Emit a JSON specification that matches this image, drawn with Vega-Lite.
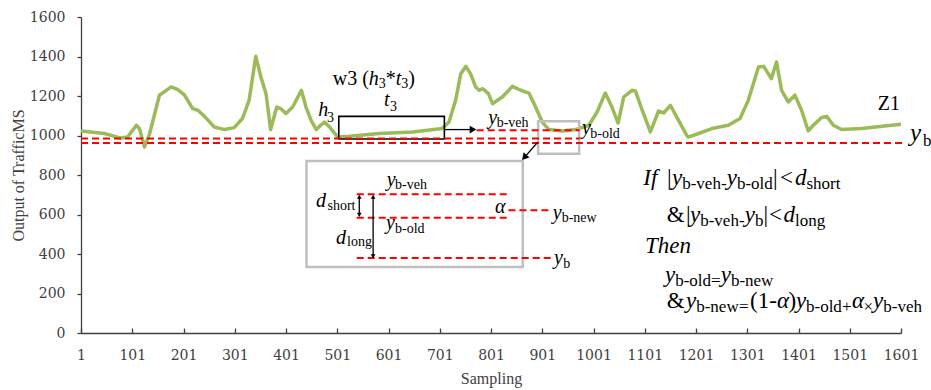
{
  "$schema": "https://vega.github.io/schema/vega-lite/v6.json",
  "width": 820,
  "height": 316,
  "autosize": {"type": "none"},
  "padding": {"left": 81, "top": 17, "right": 30, "bottom": 57},
  "background": "white",
  "config": {"view": {"stroke": null}, "text": {"font": "Liberation Serif"}},
  "datasets": {
    "curve": [
      {"x":1,"y":1023},{"x":47,"y":1010},{"x":79,"y":987},{"x":92,"y":992},{"x":109,"y":1052},{"x":115,"y":1035},{"x":125,"y":942},{"x":135,"y":1010},{"x":154,"y":1204},{"x":177,"y":1246},{"x":190,"y":1232},{"x":203,"y":1204},{"x":219,"y":1136},{"x":229,"y":1128},{"x":242,"y":1097},{"x":261,"y":1043},{"x":281,"y":1030},{"x":300,"y":1040},{"x":316,"y":1086},{"x":329,"y":1178},{"x":342,"y":1401},{"x":352,"y":1296},{"x":362,"y":1212},{"x":371,"y":1030},{"x":383,"y":1144},{"x":391,"y":1136},{"x":401,"y":1111},{"x":414,"y":1144},{"x":431,"y":1229},{"x":440,"y":1144},{"x":450,"y":1077},{"x":460,"y":1030},{"x":466,"y":1046},{"x":476,"y":1068},{"x":486,"y":1043},{"x":502,"y":992},{"x":525,"y":996},{"x":583,"y":1010},{"x":648,"y":1018},{"x":706,"y":1035},{"x":719,"y":1068},{"x":732,"y":1178},{"x":742,"y":1313},{"x":752,"y":1350},{"x":761,"y":1313},{"x":771,"y":1246},{"x":778,"y":1229},{"x":785,"y":1237},{"x":796,"y":1212},{"x":804,"y":1161},{"x":823,"y":1195},{"x":843,"y":1249},{"x":859,"y":1229},{"x":875,"y":1215},{"x":888,"y":1144},{"x":901,"y":1068},{"x":914,"y":1030},{"x":940,"y":1023},{"x":966,"y":1030},{"x":992,"y":1052},{"x":1008,"y":1119},{"x":1024,"y":1215},{"x":1037,"y":1144},{"x":1049,"y":1063},{"x":1060,"y":1195},{"x":1076,"y":1229},{"x":1083,"y":1225},{"x":1096,"y":1128},{"x":1112,"y":1018},{"x":1128,"y":1124},{"x":1138,"y":1114},{"x":1151,"y":1153},{"x":1167,"y":1077},{"x":1183,"y":1001},{"x":1186,"y":992},{"x":1206,"y":1010},{"x":1232,"y":1035},{"x":1264,"y":1052},{"x":1287,"y":1086},{"x":1303,"y":1178},{"x":1323,"y":1347},{"x":1333,"y":1350},{"x":1348,"y":1288},{"x":1358,"y":1372},{"x":1368,"y":1229},{"x":1381,"y":1170},{"x":1394,"y":1204},{"x":1407,"y":1128},{"x":1420,"y":1023},{"x":1430,"y":1052},{"x":1446,"y":1091},{"x":1456,"y":1097},{"x":1469,"y":1052},{"x":1485,"y":1030},{"x":1524,"y":1035},{"x":1601,"y":1057}
    ],
    "dash": [
      {"x":1,"x2":974,"y":985},
      {"x":1,"x2":1608,"y":962},
      {"x":773,"x2":974,"y":1026},
      {"x":539,"x2":838,"y":702},
      {"x":539,"x2":838,"y":584},
      {"x":835,"x2":916,"y":621},
      {"x":539,"x2":919,"y":380}
    ],
    "window": [{"x":504,"x2":710,"y":982,"y2":1097}],
    "zoomboxes": [
      {"x":893,"x2":973,"y":908,"y2":1072},
      {"x":441,"x2":863,"y":334,"y2":871}
    ],
    "arrows": [
      {"x":710,"y":1030,"x2":762,"y2":1030},
      {"x":892,"y":966,"x2":868,"y2":894},
      {"x":544,"y":692,"x2":544,"y2":596},
      {"x":571,"y":692,"x2":571,"y2":387}
    ],
    "heads": [
      {"x":766,"y":1030,"dir":"right"},
      {"x":866,"y":889,"dir":"diag"},
      {"x":544,"y":690,"dir":"up"},
      {"x":544,"y":598,"dir":"down"},
      {"x":571,"y":690,"dir":"up"},
      {"x":571,"y":389,"dir":"down"}
    ],
    "texts": [
      {"x":795.7,"y":1056.7,"t":"y","kind":"lab"},
      {"x":978.6,"y":1006.1,"t":"y","kind":"lab"},
      {"x":464.0,"y":1097.2,"t":"h","kind":"lab"},
      {"x":592.2,"y":1147.9,"t":"t","kind":"lab"},
      {"x":562.4,"y":1254.2,"t":"h","kind":"lab"},
      {"x":615.0,"y":1254.2,"t":"t","kind":"lab"},
      {"x":597.5,"y":742.8,"t":"y","kind":"lab"},
      {"x":459.5,"y":638.0,"t":"d","kind":"lab"},
      {"x":596.1,"y":525.1,"t":"y","kind":"lab"},
      {"x":498.6,"y":452.7,"t":"d","kind":"lab"},
      {"x":808.8,"y":606.1,"t":"α","kind":"lab"},
      {"x":921.4,"y":575.7,"t":"y","kind":"lab"},
      {"x":923.9,"y":347.8,"t":"y","kind":"lab"},
      {"x":812.1,"y":1044.0,"t":"b-veh","kind":"sub"},
      {"x":994.7,"y":989.4,"t":"b-old","kind":"sub"},
      {"x":481.0,"y":1068.4,"t":"3","kind":"sub"},
      {"x":603.9,"y":1124.1,"t":"3","kind":"sub"},
      {"x":581.9,"y":1239,"t":"3","kind":"sub"},
      {"x":626.0,"y":1239,"t":"3","kind":"sub"},
      {"x":613.7,"y":731.1,"t":"b-veh","kind":"sub"},
      {"x":482.0,"y":623.8,"t":"short","kind":"sub"},
      {"x":613.7,"y":506.3,"t":"b-old","kind":"sub"},
      {"x":520.0,"y":439.0,"t":"long","kind":"sub"},
      {"x":938.9,"y":560.5,"t":"b-new","kind":"sub"},
      {"x":942.1,"y":327.6,"t":"b","kind":"sub"},
      {"x":492.1,"y":1254.2,"t":"w3 (","kind":"rm"},
      {"x":595.5,"y":1254.2,"t":"*","kind":"rm"},
      {"x":639.6,"y":1254.2,"t":")","kind":"rm"},
      {"x":1555.5,"y":1127.6,"t":"Z1","kind":"rm"},
      {"x":1618.5,"y":970.6,"t":"y","kind":"big"},
      {"x":1644.0,"y":945.3,"t":"b","kind":"bigsub"},
      {"x":1098.2,"y":747.8,"t":"If","kind":"cond"},
      {"x":1154.2,"y":747.8,"t":"y","kind":"cond"},
      {"x":1260.9,"y":747.8,"t":"y","kind":"cond"},
      {"x":1394.2,"y":747.8,"t":"d","kind":"cond"},
      {"x":1189.3,"y":560.5,"t":"y","kind":"cond"},
      {"x":1296.0,"y":560.5,"t":"y","kind":"cond"},
      {"x":1371.7,"y":560.5,"t":"d","kind":"cond"},
      {"x":1101.5,"y":407.1,"t":"Then","kind":"cond"},
      {"x":1140.5,"y":256.7,"t":"y","kind":"cond"},
      {"x":1249.2,"y":256.7,"t":"y","kind":"cond"},
      {"x":1181.5,"y":125.1,"t":"y","kind":"cond"},
      {"x":1359.0,"y":125.1,"t":"α","kind":"cond"},
      {"x":1396.1,"y":125.1,"t":"y","kind":"cond"},
      {"x":1505.4,"y":125.1,"t":"α","kind":"cond"},
      {"x":1546.4,"y":125.1,"t":"y","kind":"cond"},
      {"x":1144.4,"y":747.8,"t":"|","kind":"condrm"},
      {"x":1351.2,"y":747.8,"t":"|","kind":"condrm"},
      {"x":1364.9,"y":747.8,"t":"<","kind":"condrm"},
      {"x":1143.8,"y":560.5,"t":"&","kind":"condrm"},
      {"x":1181.5,"y":560.5,"t":"|","kind":"condrm"},
      {"x":1332.5,"y":560.5,"t":"|","kind":"condrm"},
      {"x":1343.4,"y":560.5,"t":"<","kind":"condrm"},
      {"x":1143.8,"y":125.1,"t":"&","kind":"condrm"},
      {"x":1306.4,"y":125.1,"t":"(1-","kind":"condrm"},
      {"x":1381.5,"y":125.1,"t":")","kind":"condrm"},
      {"x":1174.1,"y":727.6,"t":"b-veh","kind":"condsub"},
      {"x":1249.8,"y":727.6,"t":"-","kind":"condsub"},
      {"x":1280.8,"y":727.6,"t":"b-old","kind":"condsub"},
      {"x":1416.6,"y":727.6,"t":"short","kind":"condsub"},
      {"x":1209.2,"y":540.3,"t":"b-veh","kind":"condsub"},
      {"x":1284.9,"y":540.3,"t":"-","kind":"condsub"},
      {"x":1315.9,"y":540.3,"t":"b","kind":"condsub"},
      {"x":1394.2,"y":540.3,"t":"long","kind":"condsub"},
      {"x":1160.4,"y":236.5,"t":"b-old","kind":"condsub"},
      {"x":1230.5,"y":236.5,"t":"=","kind":"condsub"},
      {"x":1269.1,"y":236.5,"t":"b-new","kind":"condsub"},
      {"x":1201.4,"y":104.9,"t":"b-new","kind":"condsub"},
      {"x":1284.9,"y":104.9,"t":"=","kind":"condsub"},
      {"x":1415.6,"y":104.9,"t":"b-old","kind":"condsub"},
      {"x":1485.9,"y":104.9,"t":"+","kind":"condsub"},
      {"x":1527.8,"y":104.9,"t":"×","kind":"condsub"},
      {"x":1566.3,"y":104.9,"t":"b-veh","kind":"condsub"}
    ]
  },
  "encoding": {
    "x": {
      "field": "x", "type": "quantitative",
      "scale": {"domain": [1, 1601], "nice": false, "zero": false},
      "axis": {
        "title": "Sampling",
        "values": [1,101,201,301,401,501,601,701,801,901,1001,1101,1201,1301,1401,1501,1601],
        "format": "d", "grid": false, "labelFlush": false, "labelOverlap": false,
        "labelFont": "DejaVu Serif", "labelFontSize": 14, "labelColor": "#404040",
        "domainColor": "#404040", "domainWidth": 1.3, "tickColor": "#404040", "tickWidth": 1.3,
        "tickSize": -5, "labelPadding": 20,
        "titleFont": "Liberation Serif", "titleFontSize": 16, "titleFontWeight": "normal", "titleColor": "#404040", "titlePadding": 8
      }
    },
    "y": {
      "field": "y", "type": "quantitative",
      "scale": {"domain": [0, 1600], "nice": false, "zero": false},
      "axis": {
        "title": "Output of TrafficMS",
        "values": [0,200,400,600,800,1000,1200,1400,1600],
        "format": "d", "grid": false, "labelOverlap": false, "labelFlush": false,
        "labelFont": "DejaVu Serif", "labelFontSize": 14, "labelColor": "#404040",
        "domainColor": "#404040", "domainWidth": 1.3, "tickColor": "#404040", "tickWidth": 1.3,
        "tickSize": 4, "labelPadding": 12,
        "titleFont": "Liberation Serif", "titleFontSize": 16, "titleFontWeight": "normal", "titleColor": "#404040", "titlePadding": 3
      }
    }
  },
  "layer": [
    {"data": {"name": "curve"}, "mark": {"type": "line", "color": "#9BBB59", "strokeWidth": 3.5, "strokeJoin": "round"}},
    {"data": {"name": "window"}, "mark": {"type": "rect", "fill": "transparent", "stroke": "black", "strokeWidth": 1.6},
     "encoding": {"x2": {"field": "x2"}, "y2": {"field": "y2"}}},
    {"data": {"name": "zoomboxes"}, "mark": {"type": "rect", "fill": "transparent", "stroke": "#BFBFBF", "strokeWidth": 2.5},
     "encoding": {"x2": {"field": "x2"}, "y2": {"field": "y2"}}},
    {"data": {"name": "dash"}, "mark": {"type": "rule", "color": "#FF0000", "strokeWidth": 2, "strokeDash": [7, 4]},
     "encoding": {"x2": {"field": "x2"}}},
    {"data": {"name": "arrows"}, "mark": {"type": "rule", "color": "black", "strokeWidth": 1.3},
     "encoding": {"x2": {"field": "x2"}, "y2": {"field": "y2"}}},
    {"data": {"name": "heads"}, "transform": [{"filter": "datum.dir === 'right'"}],
     "mark": {"type": "point", "shape": "triangle-right", "filled": true, "color": "black", "size": 60, "opacity": 1}},
    {"data": {"name": "heads"}, "transform": [{"filter": "datum.dir === 'diag'"}],
     "mark": {"type": "point", "shape": "triangle-down", "angle": 42, "filled": true, "color": "black", "size": 60, "opacity": 1}},
    {"data": {"name": "heads"}, "transform": [{"filter": "datum.dir === 'up'"}],
     "mark": {"type": "point", "shape": "triangle-up", "filled": true, "color": "black", "size": 22, "opacity": 1}},
    {"data": {"name": "heads"}, "transform": [{"filter": "datum.dir === 'down'"}],
     "mark": {"type": "point", "shape": "triangle-down", "filled": true, "color": "black", "size": 22, "opacity": 1}},
    {"data": {"name": "texts"}, "transform": [{"filter": "datum.kind === 'lab'"}],
     "mark": {"type": "text", "align": "left", "baseline": "alphabetic", "font": "Liberation Serif", "fontStyle": "italic", "fontSize": 20, "color": "black"},
     "encoding": {"text": {"field": "t"}}},
    {"data": {"name": "texts"}, "transform": [{"filter": "datum.kind === 'sub'"}],
     "mark": {"type": "text", "align": "left", "baseline": "alphabetic", "font": "Liberation Serif", "fontSize": 14, "color": "black"},
     "encoding": {"text": {"field": "t"}}},
    {"data": {"name": "texts"}, "transform": [{"filter": "datum.kind === 'rm'"}],
     "mark": {"type": "text", "align": "left", "baseline": "alphabetic", "font": "Liberation Serif", "fontSize": 20, "color": "black"},
     "encoding": {"text": {"field": "t"}}},
    {"data": {"name": "texts"}, "transform": [{"filter": "datum.kind === 'big'"}],
     "mark": {"type": "text", "align": "left", "baseline": "alphabetic", "font": "Liberation Serif", "fontStyle": "italic", "fontSize": 25, "color": "black"},
     "encoding": {"text": {"field": "t"}}},
    {"data": {"name": "texts"}, "transform": [{"filter": "datum.kind === 'cond'"}],
     "mark": {"type": "text", "align": "left", "baseline": "alphabetic", "font": "Liberation Serif", "fontStyle": "italic", "fontSize": 23, "color": "black"},
     "encoding": {"text": {"field": "t"}}},
    {"data": {"name": "texts"}, "transform": [{"filter": "datum.kind === 'condrm'"}],
     "mark": {"type": "text", "align": "left", "baseline": "alphabetic", "font": "Liberation Serif", "fontSize": 23, "color": "black"},
     "encoding": {"text": {"field": "t"}}},
    {"data": {"name": "texts"}, "transform": [{"filter": "datum.kind === 'condsub' || datum.kind === 'bigsub'"}],
     "mark": {"type": "text", "align": "left", "baseline": "alphabetic", "font": "Liberation Serif", "fontSize": 17, "color": "black"},
     "encoding": {"text": {"field": "t"}}}
  ]
}
